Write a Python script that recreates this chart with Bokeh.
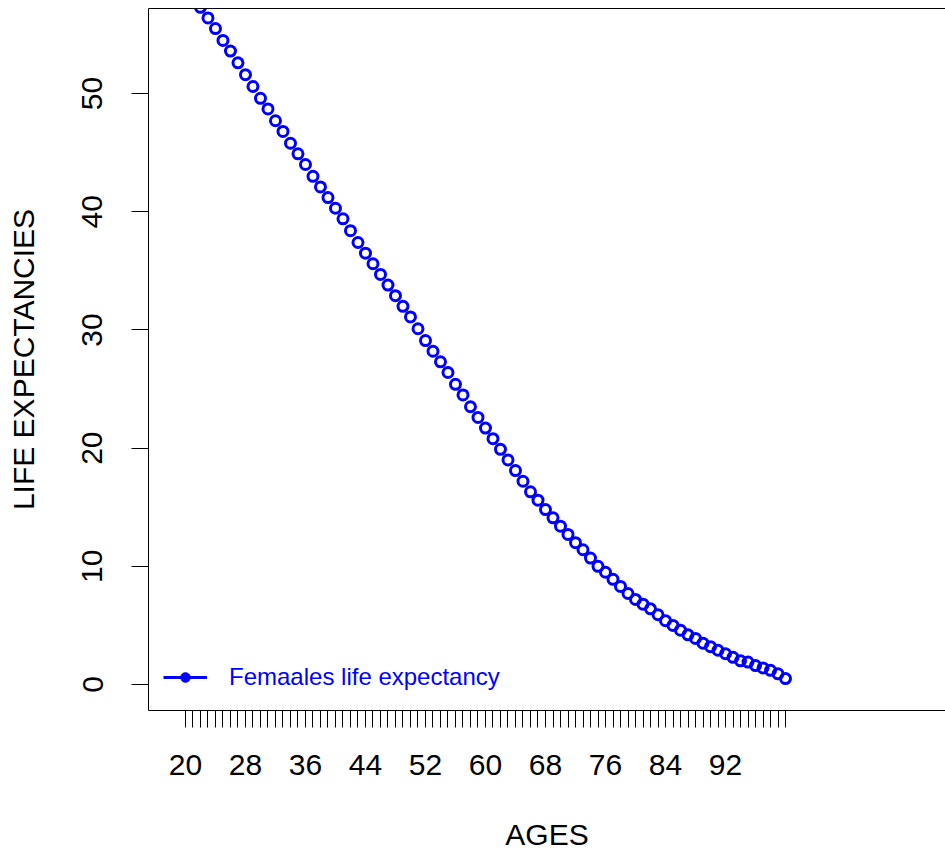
from bokeh.plotting import figure
from bokeh.models import FixedTicker, LinearAxis, Legend, LegendItem, Range1d
from bokeh.embed import file_html
from bokeh.resources import INLINE

# ---- data ----
ages = list(range(20, 101))
female_life_expectancy = [
    59.1, 58.2, 57.3, 56.4, 55.5, 54.5, 53.6, 52.6, 51.6, 50.6,   # 20-29
    49.6, 48.7, 47.7, 46.8, 45.8, 44.9, 44.0, 43.0, 42.1, 41.2,   # 30-39
    40.3, 39.4, 38.4, 37.4, 36.5, 35.6, 34.7, 33.8, 32.9, 32.0,   # 40-49
    31.1, 30.1, 29.1, 28.2, 27.3, 26.4, 25.4, 24.5, 23.5, 22.6,   # 50-59
    21.7, 20.8, 19.9, 19.0, 18.1, 17.2, 16.3, 15.6, 14.8, 14.1,   # 60-69
    13.4, 12.7, 12.0, 11.4, 10.7, 10.0, 9.5, 8.9, 8.3, 7.7,       # 70-79
    7.2, 6.8, 6.4, 5.9, 5.4, 5.0, 4.6, 4.2, 3.9, 3.5,             # 80-89
    3.2, 2.9, 2.6, 2.3, 2.0, 1.9, 1.6, 1.4, 1.2, 0.9,             # 90-99
    0.5,                                                          # 100
]
x_ticks = list(range(20, 101))
x_labelled = [20, 28, 36, 44, 52, 60, 68, 76, 84, 92]
y_ticks = [0, 10, 20, 30, 40, 50]
series_label = "Femaales life expectancy"

FONT = "Liberation Sans"
NAN = float("nan")

p = figure(width=945, height=854, output_backend="svg", toolbar_location=None,
           x_range=Range1d(15.07, 121.33), y_range=Range1d(-2.2, 57.2),
           min_border_left=148, min_border_right=0, min_border_top=8,
           min_border_bottom=144,
           x_axis_label="AGES", y_axis_label="LIFE EXPECTANCIES")
p.grid.visible = False
p.outline_line_color = None
p.background_fill_color = "white"
p.border_fill_color = "white"

# x axis
xa = p.xaxis[0]
xa.ticker = FixedTicker(ticks=x_ticks)
xa.major_label_overrides = {t: (str(t) if t in x_labelled else "") for t in x_ticks}
# y axis
ya = p.yaxis[0]
ya.ticker = FixedTicker(ticks=y_ticks)
ya.major_label_orientation = "vertical"

for ax in (xa, ya):
    ax.axis_line_color = "black"
    ax.axis_line_width = 1
    ax.major_tick_line_color = "black"
    ax.major_tick_line_width = 1
    ax.major_tick_in = 0
    ax.major_tick_out = 17
    ax.minor_tick_line_color = None
    ax.major_label_text_font = FONT
    ax.major_label_text_font_size = "30px"
    ax.major_label_text_color = "black"
    ax.axis_label_text_font = FONT
    ax.axis_label_text_font_size = "30px"
    ax.axis_label_text_font_style = "normal"
    ax.axis_label_text_color = "black"

xa.major_label_standoff = 27
xa.axis_label_standoff = 40
ya.major_label_standoff = 29
ya.axis_label_standoff = 40

# top border of the box
top = LinearAxis(ticker=FixedTicker(ticks=[]), major_tick_in=0, major_tick_out=0,
                 minor_tick_line_color=None, major_label_text_font_size="0px",
                 major_label_standoff=0, axis_label_standoff=0,
                 axis_line_color="black", axis_line_width=1)
p.add_layout(top, "above")

# series: open circles
p.scatter(ages, female_life_expectancy, marker="circle", size=10,
          line_color="blue", line_width=3, fill_color=None)

# legend (line + filled dot, no box); the renderers carry no visible data
leg_line = p.line(x=[NAN], y=[NAN], line_color="blue", line_width=3)
leg_dot = p.scatter(x=[NAN], y=[NAN], marker="circle", size=10,
                    fill_color="blue", line_color="blue", line_width=1)
legend = Legend(items=[LegendItem(label=series_label, renderers=[leg_line, leg_dot])],
                location=(15, 19), padding=0, margin=0, spacing=0,
                glyph_width=44, glyph_height=24, label_standoff=22,
                label_text_font=FONT, label_text_font_size="24px",
                label_text_color="blue", border_line_color=None,
                background_fill_alpha=0)
p.add_layout(legend, "center")

open("out.html", "w").write(file_html(p, INLINE))
